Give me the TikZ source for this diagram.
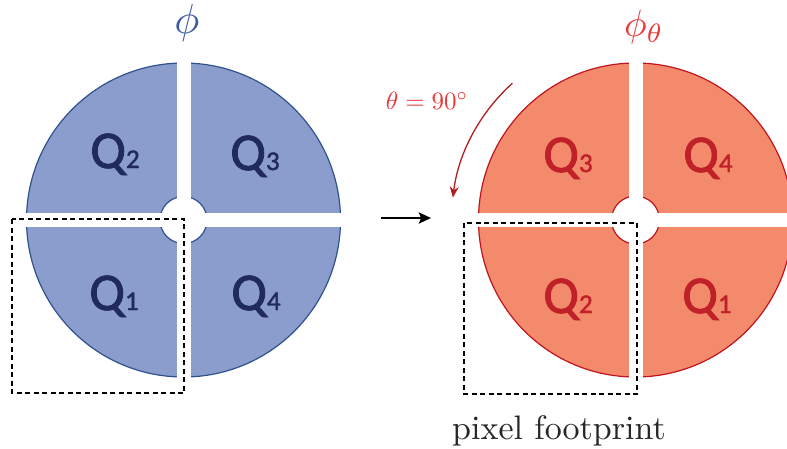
\documentclass[tikz,border=0pt]{standalone}
\usepackage{graphicx}
\usepackage{fontspec}
\newfontfamily\qfont{Carlito}[FakeBold=1.6]
\usetikzlibrary{arrows.meta}

\definecolor{diskblue}{RGB}{138,157,205}
\definecolor{edgeblue}{RGB}{47,82,143}
\definecolor{qnavy}{RGB}{32,42,92}
\definecolor{phiblue}{RGB}{60,90,160}
\definecolor{diskred}{RGB}{244,138,108}
\definecolor{edgered}{RGB}{192,20,30}
\definecolor{qred}{RGB}{192,32,40}
\definecolor{labred}{RGB}{235,55,55}
\definecolor{arcred}{RGB}{180,30,35}

\newcommand{\quadlab}[1]{{\fontsize{53}{53}\selectfont Q}{\fontsize{27}{27}\selectfont #1}}

\tikzset{
  footprint/.style={draw=black, line width=1.3pt, dash pattern=on 5pt off 3.5pt},
  qlab/.style={anchor=base, inner sep=0pt, font=\qfont},
}

\begin{document}
\begin{tikzpicture}[x=1pt,y=1pt]
    \useasboundingbox (0,0) rectangle (787,-448);
    % original pupil
    \begin{scope}[shift={(183.5,-220)}]
        \fill[diskblue, draw=edgeblue, line width=1.2pt] (0,0) circle (157);
        \fill[white, draw=edgeblue, line width=1.2pt] (0,0) circle (23.5);
        \fill[white] (-7,-170) rectangle (7,170);
        \fill[white] (-170,-7) rectangle (170,7);
    \end{scope}
    \node[qlab, text=qnavy] (lq2) at (115,-168) {\quadlab{2}};
    \node[qlab, text=qnavy] (lq3) at (255,-170) {\quadlab{3}};
    \node[qlab, text=qnavy] (lq1) at (114,-310) {\quadlab{1}};
    \node[qlab, text=qnavy] (lq4) at (256,-310) {\quadlab{4}};
    \node[text=phiblue] (phiL) at (187,-23) {\scalebox{4.2}{$\phi$}};
    \draw[footprint] (12,-219) rectangle (184,-393);
    % rotated pupil
    \begin{scope}[shift={(635.5,-220)}]
        \fill[diskred, draw=edgered, line width=1.2pt] (0,0) circle (157);
        \fill[white, draw=edgered, line width=1.2pt] (0,0) circle (24);
        \fill[white] (-7,-170) rectangle (7,170);
        \fill[white] (-170,-7) rectangle (170,7);
        \draw[arcred, line width=1.3pt, -{Stealth[length=11pt, width=9pt]}]
            (132:184) arc[start angle=132, end angle=173, radius=184];
    \end{scope}
    \node[qlab, text=qred] (rq3) at (568,-172) {\quadlab{3}};
    \node[qlab, text=qred] (rq4) at (708,-172) {\quadlab{4}};
    \node[qlab, text=qred] (rq2) at (568,-313) {\quadlab{2}};
    \node[qlab, text=qred] (rq1) at (707,-313) {\quadlab{1}};
    \node[text=labred] (phiR) at (644,-27) {\scalebox{3.8}{$\phi_\theta$}};
    \node[text=labred] (rotlab) at (427,-101) {\scalebox{2.5}{$\theta = 90^\circ$}};
    \draw[footprint] (464,-223) rectangle (637,-394);
    \node[anchor=base, text=black!85] (pixlab) at (559,-439) {\scalebox{3.4}{pixel footprint}};
    % mapping arrow
    \coordinate (arrL) at (381,-218);
    \coordinate (arrR) at (431,-218);
    \draw[line width=2.6pt, -{Stealth[length=12pt, width=11pt, inset=2pt]}] (arrL) -- (arrR);
\end{tikzpicture}
\end{document}
